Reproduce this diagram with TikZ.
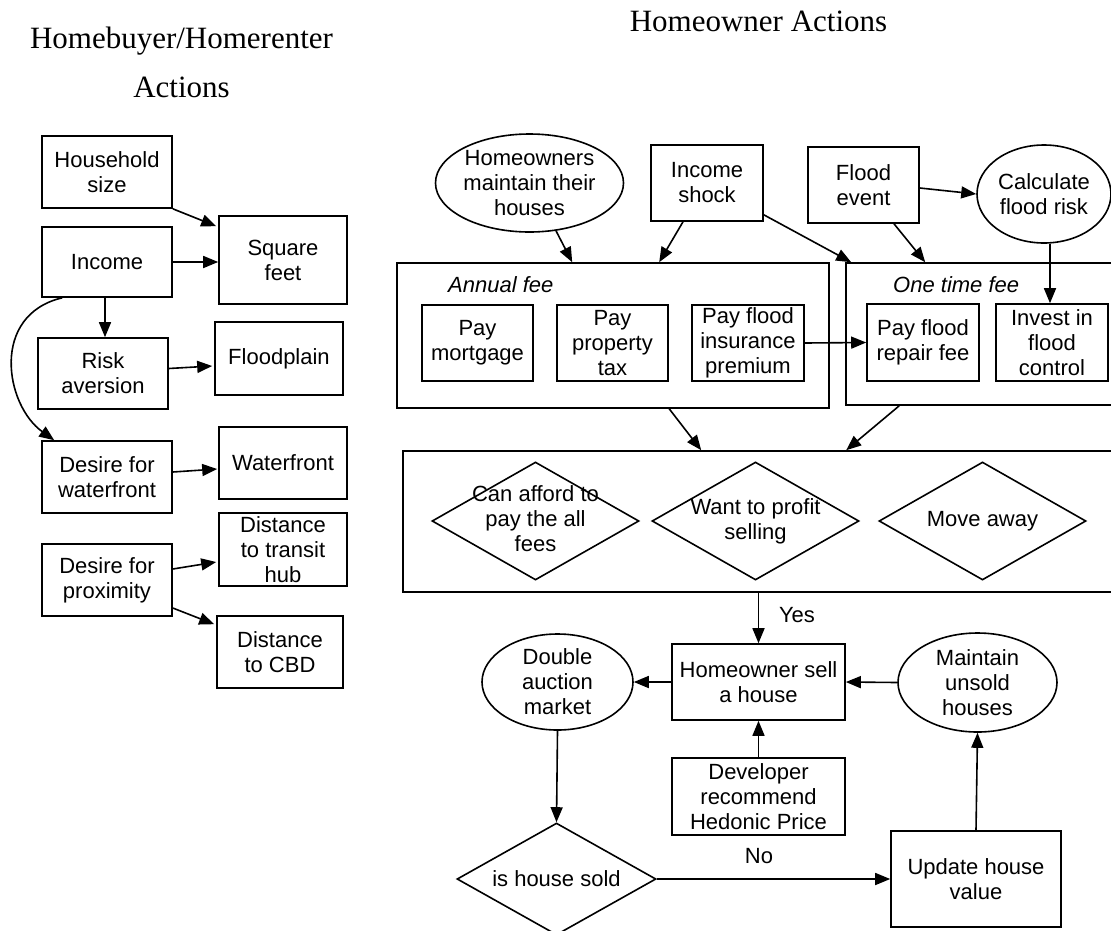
\documentclass[tikz,border=0pt]{standalone}
\usepackage{fontspec}
\setmainfont{Liberation Serif}
\setsansfont{Liberation Sans}
\usetikzlibrary{shapes.geometric,arrows.meta,calc}
\begin{document}
\begin{tikzpicture}[x=1pt,y=-1pt,
  every node/.style={font=\sffamily\fontsize{22}{25}\selectfont, align=center, inner sep=0pt},
  box/.style={draw, line width=1.6pt, rectangle},
  oval/.style={draw, line width=1.6pt, ellipse},
  dia/.style={draw, line width=1.6pt, diamond},
  arr/.style={line width=1.6pt, -{Triangle[length=15pt,width=12pt]}},
  title/.style={font=\rmfamily\fontsize{31}{49}\selectfont},
  lbl/.style={font=\sffamily\itshape\fontsize{22}{25}\selectfont}
]
\useasboundingbox (0,0) rectangle (1111,930);
\fill[white] (0,0) rectangle (1111,930);
\clip (0,0) rectangle (1111,930);

% titles
\node[title] (t1) at (181.5,62) {Homebuyer/Homerenter\\Actions};
\node[title, anchor=base] (t2) at (758.5,31) {Homeowner Actions};

% left column
\node[box, minimum width=130pt, minimum height=72pt] (hh) at (107,172) {Household\\size};
\node[box, minimum width=130pt, minimum height=70pt] (inc) at (107,262) {Income};
\node[box, minimum width=128pt, minimum height=88pt] (sqft) at (283,260) {Square\\feet};
\node[box, minimum width=130pt, minimum height=71pt] (risk) at (103,373.5) {Risk\\aversion};
\node[box, minimum width=128pt, minimum height=73pt] (fp) at (279,358.5) {Floodplain};
\node[box, minimum width=130pt, minimum height=72pt] (dw) at (107,477) {Desire for\\waterfront};
\node[box, minimum width=128pt, minimum height=72pt] (wf) at (283,463) {Waterfront};
\node[box, minimum width=130pt, minimum height=72pt] (dp) at (107,580) {Desire for\\proximity};
\node[box, minimum width=128pt, minimum height=73pt] (dth) at (283,549.5) {Distance\\to transit\\hub};
\node[box, minimum width=126pt, minimum height=72pt] (cbd) at (280,652) {Distance\\to CBD};

\draw[arr] (hh.south east) -- ($(sqft.north west)+(-2,11)$);
\draw[arr] (inc.east) -- (inc.east -| sqft.west);
\draw[arr] ($(inc.south)+(-2,0)$) -- ($(risk.north)+(2,0)$);
\draw[arr] ($(inc.south west)+(21,0)$) .. controls (-10,315) and (5,405) .. ($(dw.north west)+(13,0)$);
\draw[arr] ($(risk.east)+(0,-5)$) -- ($(fp.west)+(-2,7.5)$);
\draw[arr] ($(dw.east)+(0,-5)$) -- ($(wf.west)+(-1,6)$);
\draw[arr] ($(dp.east)+(0,-11)$) -- ($(dth.west)+(-2,12.5)$);
\draw[arr] ($(dp.east)+(0,28)$) -- ($(cbd.north west)+(-2,9)$);

% right top
\node[oval, minimum width=188pt, minimum height=98pt] (hm) at (529.5,183) {Homeowners\\maintain their\\houses};
\node[box, minimum width=112pt, minimum height=76pt] (ishock) at (707,183) {Income\\shock};
\node[box, minimum width=111pt, minimum height=76pt] (flood) at (863.5,185) {Flood\\event};
\node[oval, minimum width=134pt, minimum height=98pt] (calc) at (1044,194) {Calculate\\flood risk};

\node[box, minimum width=432pt, minimum height=145pt] (annual) at (613,335.5) {};
\node[lbl, anchor=base west] (annuallbl) at (448,292) {Annual fee};
\node[box, minimum width=270pt, minimum height=142pt] (onetime) at (981,334) {};
\node[lbl, anchor=base west] (onetimelbl) at (893,292) {One time fee};

\node[box, minimum width=111pt, minimum height=76pt] (mort) at (477.5,343) {Pay\\mortgage};
\node[box, minimum width=111pt, minimum height=76pt] (ptax) at (612.5,343) {Pay\\property\\tax};
\node[box, minimum width=112pt, minimum height=76pt] (ins) at (748,343) {Pay flood\\insurance\\premium};
\node[box, minimum width=112pt, minimum height=77pt] (repair) at (923,342.5) {Pay flood\\repair fee};
\node[box, minimum width=112pt, minimum height=77pt] (invest) at (1052,342.5) {Invest in\\flood\\control};

\draw[arr] (hm.-61) -- ($(annual.north west)+(176,0)$);
\draw[arr] ($(ishock.south)+(-24,0)$) -- ($(annual.north west)+(263,0)$);
\draw[arr] ($(ishock.south east)+(0,-7)$) -- ($(onetime.north west)+(6,0)$);
\draw[arr] ($(flood.south)+(30.5,0)$) -- ($(onetime.north west)+(80,0)$);
\draw[arr] ($(flood.east)+(0,3)$) -- (calc.west);
\draw[arr] ($(calc.south)+(6,0)$) -- ($(invest.north)+(-2,0)$);
\draw[arr] (ins.east) -- (repair.west);

% decision box
\node[box, minimum width=712pt, minimum height=141pt] (dec) at (759,521.5) {};
\node[dia, minimum width=207pt, minimum height=118pt] (d1) at (535.5,521) {};
\node (d1t) at ($(d1)+(0,-2)$) {Can afford to\\pay the all\\fees};
\node[dia, minimum width=207pt, minimum height=118pt] (d2) at (755.5,521) {};
\node (d2t) at (d2) {Want to profit\\selling};
\node[dia, minimum width=207pt, minimum height=118pt] (d3) at (982.5,521) {};
\node (d3t) at (d3) {Move away};

\draw[arr] ($(annual.south west)+(273,0)$) -- ($(dec.north west)+(299,0)$);
\draw[arr] ($(onetime.south west)+(54,0)$) -- ($(dec.north west)+(444,0)$);

% bottom
\node[box, minimum width=173pt, minimum height=76pt] (sell) at (758.5,682) {Homeowner sell\\a house};
\node[oval, minimum width=151pt, minimum height=96pt] (dam) at (557.5,682) {Double\\auction\\market};
\node[oval, minimum width=159pt, minimum height=99pt] (mus) at (977.5,682.5) {Maintain\\unsold\\houses};
\node[box, minimum width=173pt, minimum height=77pt] (dev) at (758.5,796.5) {Developer\\recommend\\Hedonic Price};
\node[dia, minimum width=199pt, minimum height=112pt] (sold) at (556.5,879) {};
\node (soldt) at (sold) {is house sold};
\node[box, minimum width=170pt, minimum height=96pt] (upd) at (976,879) {Update house\\value};
\node[anchor=base] (yes) at (797,622) {Yes};
\node[anchor=base] (no) at (759,863) {No};

\draw[arr] (sell.north |- dec.south) -- (sell.north);
\draw[arr] (sell.west) -- (dam.east);
\draw[arr] (mus.west) -- (sell.east);
\draw[arr] (dev.north) -- (sell.south);
\draw[arr] (dam.south) -- (sold.north);
\draw[arr] (sold.east) -- (upd.west);
\draw[arr] (upd.north) -- (mus.south);
\end{tikzpicture}
\end{document}
